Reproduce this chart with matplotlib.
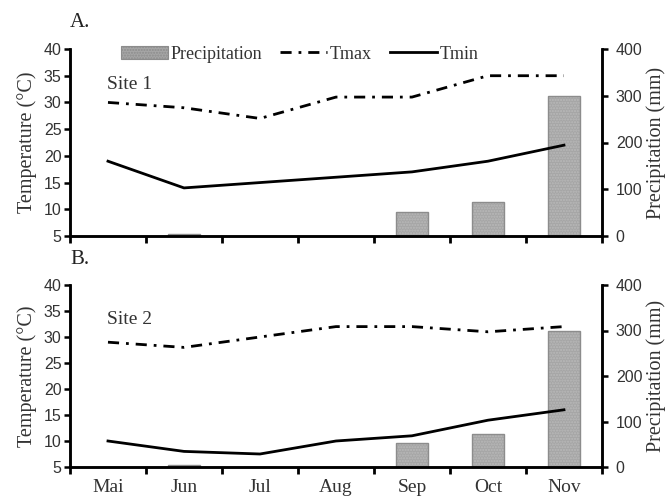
import numpy as np
import matplotlib
matplotlib.use("Agg")
import matplotlib.pyplot as plt
from matplotlib.patches import Patch
from matplotlib.lines import Line2D

# data
months = ["Mai", "Jun", "Jul", "Aug", "Sep", "Oct", "Nov"]

tmax_site1 = [30, 29, 27, 31, 31, 35, 35]
tmin_site1 = [19, 14, 15, 16, 17, 19, 22]
prec_site1 = [0, 4, 0, 0, 52, 73, 300]

tmax_site2 = [29, 28, 30, 32, 32, 31, 32]
tmin_site2 = [10, 8, 7.5, 10, 11, 14, 16]
prec_site2 = [0, 4, 0, 0, 52, 73, 300]

serif = ["Liberation Serif", "DejaVu Serif"]
narrow = ["Liberation Sans Narrow", "Liberation Sans", "DejaVu Sans"]

plt.rcParams["font.family"] = serif
TXT = "#333333"

fig = plt.figure(figsize=(6.71, 5.0), dpi=100)

BAR_FACE = "#a6a6a6"
BAR_EDGE = "#8c8c8c"
TMAX_DASH = (0, (4, 2.5, 1, 2.5))


def draw_panel(rect, tmax, tmin, prec, site, letter, show_months):
    ax = fig.add_axes(rect)
    ax2 = ax.twinx()
    ax.set_zorder(ax2.get_zorder() + 1)
    ax.patch.set_visible(False)

    x = np.arange(len(months))

    # precipitation bars on the right axis
    ax2.bar(x, prec, width=0.41, color=BAR_FACE, edgecolor="#b9b9b9",
            hatch="......", linewidth=0)
    ax2.bar(x, prec, width=0.41, fill=False, edgecolor=BAR_EDGE, linewidth=1.0)
    ax2.set_ylim(0, 400)
    ax2.set_yticks([0, 100, 200, 300, 400])
    ax2.set_ylabel("Precipitation (mm)", fontsize=14.5, color=TXT, labelpad=3)

    ax.plot(x, tmax, color="black", lw=2.0, linestyle=TMAX_DASH)
    ax.plot(x, tmin, color="black", lw=2.0)

    ax.set_xlim(-0.5, len(months) - 0.5)
    ax.set_ylim(5, 40)
    ax.set_yticks(np.arange(5, 41, 5))
    ax.set_ylabel("Temperature (°C)", fontsize=14.5, color=TXT, labelpad=5)

    ax.set_xticks(x)
    ax.set_xticks(np.arange(-0.5, len(months), 1), minor=True)
    ax.tick_params(axis="x", which="major", length=0, pad=9, labelsize=14,
                   labelcolor=TXT)
    ax.tick_params(axis="x", which="minor", length=5, width=2, direction="out")
    if show_months:
        ax.set_xticklabels(months, fontfamily=serif)
    else:
        ax.set_xticklabels([])

    for a in (ax, ax2):
        for s in a.spines.values():
            s.set_linewidth(1.8)
        a.spines["top"].set_visible(False)
    ax.tick_params(axis="y", length=4, width=1.8, labelsize=11.5, pad=2,
                   labelcolor=TXT)
    ax2.tick_params(axis="y", length=4, width=1.8, labelsize=11.5, pad=6,
                    labelcolor=TXT)
    for lab in ax.get_yticklabels() + ax2.get_yticklabels():
        lab.set_fontfamily(narrow)

    ax.text(0.07, 0.81, site, transform=ax.transAxes, fontsize=14,
            ha="left", va="center", color=TXT)
    ax.text(0.0, 1.14, letter, transform=ax.transAxes, fontsize=15,
            ha="left", va="center", color="#222222")
    return ax


axA = draw_panel([0.1043, 0.528, 0.7928, 0.374], tmax_site1, tmin_site1,
                 prec_site1, "Site 1", "A.", False)
axB = draw_panel([0.1043, 0.066, 0.7928, 0.364], tmax_site2, tmin_site2,
                 prec_site2, "Site 2", "B.", True)

handles = [
    Patch(facecolor=BAR_FACE, edgecolor=BAR_EDGE, hatch="......", linewidth=0.8),
    Line2D([], [], color="black", lw=2.0, linestyle=TMAX_DASH),
    Line2D([], [], color="black", lw=2.0),
]
leg = axA.legend(handles, ["Precipitation", "Tmax", "Tmin"], loc="center",
                 bbox_to_anchor=(0.432, 0.973), ncol=3, frameon=False,
                 fontsize=13, handlelength=2.6, handletextpad=0.15,
                 columnspacing=1.0, borderaxespad=0)
for t in leg.get_texts():
    t.set_color(TXT)

fig.savefig("out.png", dpi=100)
